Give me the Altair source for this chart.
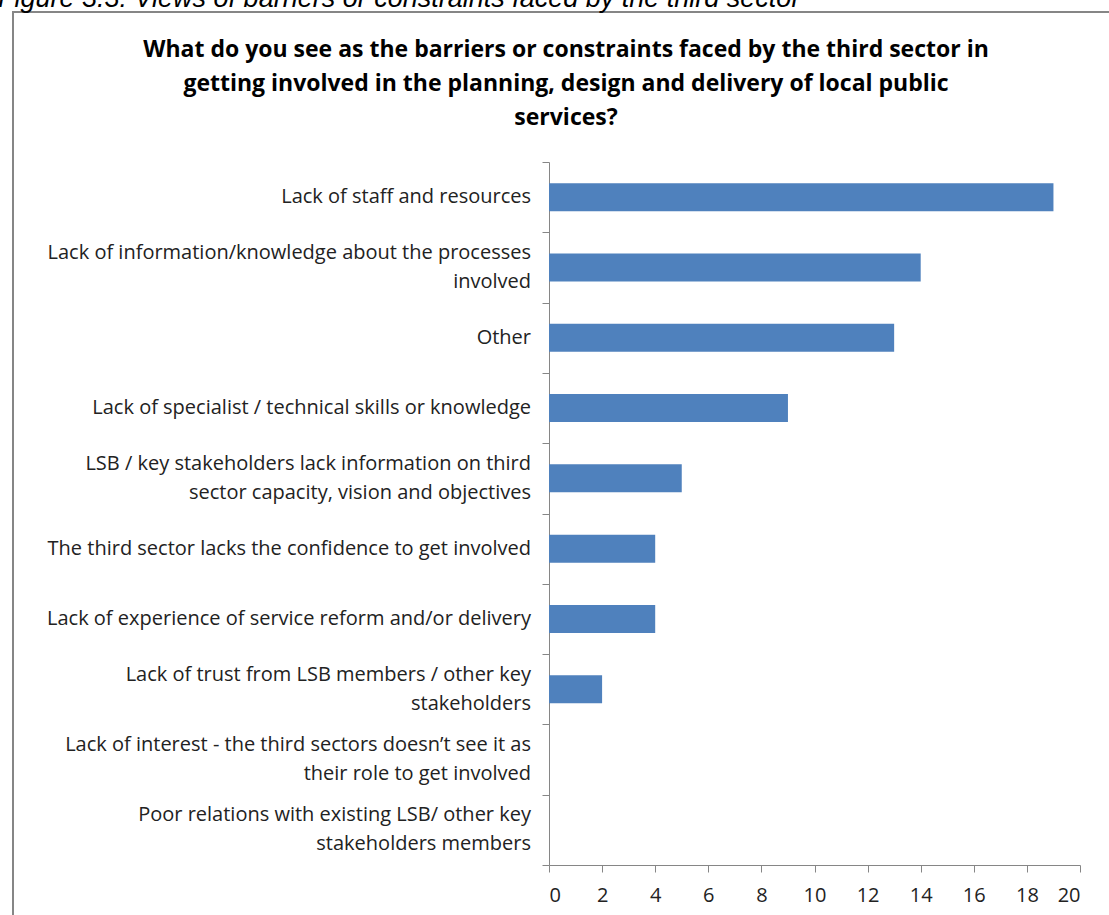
import altair as alt
import pandas as pd

categories = [
    "Lack of staff and resources",
    "Lack of information/knowledge about the processes|involved",
    "Other",
    "Lack of specialist / technical skills or knowledge",
    "LSB / key stakeholders lack information on third|sector capacity, vision and objectives",
    "The third sector lacks the confidence to get involved",
    "Lack of experience of service reform and/or delivery",
    "Lack of trust from LSB members / other key|stakeholders",
    "Lack of interest - the third sectors doesn\u2019t see it as|their role to get involved",
    "Poor relations with existing LSB/ other key|stakeholders members",
]
values = [19, 14, 13, 9, 5, 4, 4, 2, 0, 0]
x_ticks = list(range(0, 21, 2))

title_lines = [
    "What do you see as the barriers or constraints faced by the third sector in",
    "getting involved in the planning,  design and delivery of local public",
    "services?",
]
caption = "Figure 3.3: Views of barriers or constraints faced by the third sector"

df = pd.DataFrame({"category": categories, "value": values})
one = pd.DataFrame({"k": [0]})

LEFT, TOP = 549, 162
W, H = 531, 703

y_axis = alt.Axis(
    title=None, grid=False, tickBand="extent", labels=False,
    domainColor="#868686", tickColor="#868686", tickSize=7,
)
y_scale = alt.Scale(paddingInner=0, paddingOuter=0)
y_enc = alt.Y("category:N", sort=categories, scale=y_scale, axis=y_axis)

bars = alt.Chart(df).mark_bar(color="#4F81BD", size=28).encode(
    x=alt.X(
        "value:Q",
        scale=alt.Scale(domain=[0, 20], nice=False),
        axis=alt.Axis(
            values=x_ticks, title=None, grid=False,
            domainColor="#868686", tickColor="#868686", tickSize=7,
            labelFont="Open Sans", labelFontSize=20, labelColor="#222222",
            labelPadding=13,
        ),
    ),
    y=y_enc,
)

label_style = dict(
    font="Open Sans", fontSize=20, color="#222222",
    align="right", baseline="middle", lineHeight=29,
)

labels_one = alt.Chart(df).transform_filter(
    "indexof(datum.category, '|') < 0"
).mark_text(**label_style).encode(
    y=y_enc, x=alt.value(-18), text="category:N",
)

labels_two = alt.Chart(df).transform_filter(
    "indexof(datum.category, '|') >= 0"
).transform_calculate(
    lines="split(datum.category, '|')"
).mark_text(dy=-14.5, **label_style).encode(
    y=y_enc, x=alt.value(-18), text="lines:N",
)

border = alt.Chart(one).mark_rect(
    fillOpacity=0, stroke="#868686", strokeWidth=2
).encode(
    x=alt.value(13 - LEFT), x2=alt.value(1200 - LEFT),
    y=alt.value(12 - TOP), y2=alt.value(1000 - TOP),
)

title = alt.Chart(one).mark_text(
    font="Open Sans", fontSize=23, fontWeight="bold", color="#000000",
    align="center", baseline="middle", lineHeight=34,
).encode(
    x=alt.value(566 - LEFT), y=alt.value(50 - TOP),
    text=alt.value(title_lines),
)

cap = alt.Chart(one).mark_text(
    font="Liberation Sans", fontSize=27, fontStyle="italic", color="#000000",
    align="left", baseline="alphabetic",
).encode(
    x=alt.value(-2 - LEFT), y=alt.value(7 - TOP),
    text=alt.value(caption),
)

chart = alt.layer(border, bars, labels_one, labels_two, title, cap).properties(
    width=W, height=H,
    padding={"left": LEFT, "top": TOP, "right": 1109 - LEFT - W, "bottom": 915 - TOP - H},
    autosize=alt.AutoSizeParams(type="none"),
    view=alt.ViewBackground(stroke="transparent", strokeWidth=0),
).configure_view(stroke="transparent", strokeWidth=0).configure(background="white")

chart.save("out.html", embed_options={"renderer": "svg", "actions": False})
